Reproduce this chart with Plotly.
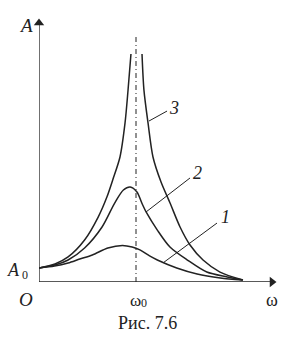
import plotly.graph_objects as go

# ---- data (ω in units of ω0, A in units of A0) ----
w1 = [0, 0.16, 0.30, 0.42, 0.55, 0.71, 0.86, 0.96, 1.04, 1.14, 1.22, 1.42, 1.63, 1.87, 2.10]
a1 = [1.0, 1.14, 1.36, 1.64, 1.93, 2.43, 2.61, 2.50, 2.29, 1.86, 1.57, 1.0, 0.57, 0.29, 0.14]

w2 = [0, 0.165, 0.30, 0.47, 0.65, 0.78, 0.87, 0.94, 1.01, 1.06, 1.11, 1.22, 1.35, 1.53, 1.73, 1.94, 2.10]
a2 = [1.0, 1.21, 1.57, 2.43, 3.93, 5.64, 6.57, 6.79, 6.43, 5.64, 4.93, 3.71, 2.50, 1.57, 0.71, 0.36, 0.14]

w3_left = [0, 0.165, 0.30, 0.47, 0.61, 0.70, 0.76, 0.835, 0.887, 0.918, 0.948]
a3_left = [1.0, 1.29, 1.79, 3.0, 4.64, 6.07, 7.29, 8.93, 11.36, 13.71, 16.29]
w3_right = [1.062, 1.082, 1.124, 1.175, 1.258, 1.351, 1.454, 1.557, 1.691, 1.866, 2.103]
a3_right = [16.29, 13.71, 11.36, 8.93, 7.14, 5.64, 3.93, 2.64, 1.57, 0.71, 0.14]

curve_labels = ["1", "2", "3"]
axis_labels = {"y": "A", "x": "ω", "origin": "O"}
tick_labels = {"A0": ("A", "0"), "w0": ("ω", "0")}
caption = "Рис. 7.6"
w0 = 1.0

# ---- layout geometry ----
W, H = 289, 338
ml, mr, mt, mb = 39, 9, 18, 56
PW, PH = W - ml - mr, H - mt - mb
px_x = 97.0   # pixels per ω0
px_y = 14.0   # pixels per A0
xmax = PW / px_x
ymax = PH / px_y

ink = "#222222"
serif = "Liberation Serif, Times New Roman, serif"

fig = go.Figure()

# axes (lines + arrowheads)
x_tip = (277 - ml) / px_x
fig.add_shape(type="line", x0=0, x1=0, y0=0, y1=ymax - 4 / px_y, xref="x", yref="y",
              line=dict(color=ink, width=1.3))
fig.add_shape(type="line", x0=0, x1=x_tip - 4 / px_x, y0=0, y1=0, xref="x", yref="y",
              line=dict(color=ink, width=1.3))
fig.add_trace(go.Scatter(x=[0], y=[ymax - 5 / px_y], mode="markers", cliponaxis=False,
                         marker=dict(symbol="triangle-up", size=9, color=ink, line=dict(width=0)),
                         hoverinfo="skip"))
fig.add_trace(go.Scatter(x=[x_tip - 5 / px_x], y=[0], mode="markers", cliponaxis=False,
                         marker=dict(symbol="triangle-right", size=9, color=ink, line=dict(width=0)),
                         hoverinfo="skip"))

line = dict(color=ink, width=1.5, shape="spline", smoothing=0.8)
fig.add_trace(go.Scatter(x=w1, y=a1, mode="lines", line=line, hoverinfo="skip"))
fig.add_trace(go.Scatter(x=w2, y=a2, mode="lines", line=line, hoverinfo="skip"))
fig.add_trace(go.Scatter(x=w3_left, y=a3_left, mode="lines", line=line, hoverinfo="skip"))
fig.add_trace(go.Scatter(x=w3_right, y=a3_right, mode="lines", line=line, hoverinfo="skip"))

# resonance line ω = ω0
fig.add_shape(type="line", x0=w0, x1=w0, y0=0, y1=17.6, xref="x", yref="y",
              line=dict(color=ink, width=1, dash="5px,3px,1px,3px"))

# leader lines for curve numbers
leaders = [((1.278, 1.36), (1.835, 4.21)),
           ((1.103, 5.0), (1.557, 7.43)),
           ((1.134, 11.5), (1.320, 12.21))]
for (xa, ya), (xb, yb) in leaders:
    fig.add_shape(type="line", x0=xa, y0=ya, x1=xb, y1=yb, xref="x", yref="y",
                  line=dict(color=ink, width=1))

def txt_data(x, y, s, size=16, italic=False):
    fig.add_annotation(x=x, y=y, xref="x", yref="y", text=s, showarrow=False,
                       font=dict(family=serif, size=size, color=ink,
                                 style="italic" if italic else "normal"),
                       xanchor="center", yanchor="middle")

def txt_px(px, py, s, size=16, italic=False):
    fig.add_annotation(x=(px - ml) / PW, y=(H - mb - py) / PH, xref="paper", yref="paper",
                       text=s, showarrow=False,
                       font=dict(family=serif, size=size, color=ink,
                                 style="italic" if italic else "normal"),
                       xanchor="center", yanchor="middle")

txt_px(26, 26, axis_labels["y"], 19, True)
txt_px(13, 270, tick_labels["A0"][0], 18, True)
txt_px(24.5, 275, tick_labels["A0"][1], 12)
txt_px(26, 299, axis_labels["origin"], 19, True)
txt_px(135, 300, tick_labels["w0"][0], 17)
txt_px(143.5, 303, tick_labels["w0"][1], 12)
txt_px(272, 300, axis_labels["x"], 18)
txt_px(147, 323, caption, 18)

txt_data(1.918, 4.64, curve_labels[0], 18, True)
txt_data(1.639, 7.79, curve_labels[1], 18, True)
txt_data(1.392, 12.43, curve_labels[2], 18, True)

fig.update_layout(
    width=W, height=H, margin=dict(l=ml, r=mr, t=mt, b=mb),
    paper_bgcolor="white", plot_bgcolor="white", showlegend=False,
    xaxis=dict(range=[0, xmax], visible=False, fixedrange=True),
    yaxis=dict(range=[0, ymax], visible=False, fixedrange=True),
)
fig.write_html("out.html")
